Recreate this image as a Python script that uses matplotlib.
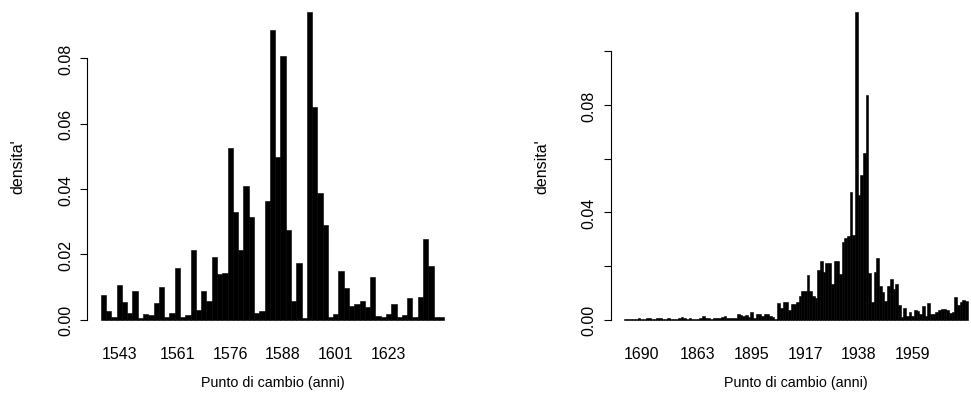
import matplotlib
matplotlib.use("Agg")
import matplotlib.pyplot as plt
import numpy as np

plt.rcParams['font.family'] = ['Liberation Sans', 'DejaVu Sans']

# ---- data: left panel (density per change-point year, bars in order) ----
left_density = [0.0076, 0.0026, 0.0009, 0.0106, 0.0055, 0.0019, 0.0089, 0.0005,
                0.0017, 0.0014, 0.0052, 0.0100, 0.0007, 0.0019, 0.0159, 0.0007,
                0.0014, 0.0214, 0.0031, 0.0088, 0.0058, 0.0193, 0.0140, 0.0144,
                0.0525, 0.0329, 0.0213, 0.0408, 0.0314, 0.0021, 0.0026, 0.0363,
                0.0887, 0.0498, 0.0808, 0.0274, 0.0057, 0.0174, 0.0004, 0.0942,
                0.0651, 0.0388, 0.0289, 0.0009, 0.0017, 0.0148, 0.0097, 0.0043,
                0.0048, 0.0058, 0.0039, 0.0131, 0.0011, 0.0008, 0.0018, 0.0048,
                0.0007, 0.0014, 0.0065, 0.0008, 0.0069, 0.0246, 0.0163, 0.0008,
                0.0008]
left_tick_labels = ['1543', '1561', '1576', '1588', '1601', '1623']
left_tick_bars = [3, 14, 24, 34, 44, 54]
left_yticks = [0.00, 0.02, 0.04, 0.06, 0.08]
left_yticklabels = ['0.00', '0.02', '0.04', '0.06', '0.08']

# ---- data: right panel ----
right_density = [
    0.0002, 0.0002, 0.0003, 0.0002, 0.0004, 0.0005, 0.0003, 0.0003, 0.0005, 0.0006,
    0.0004, 0.0003, 0.0005, 0.0006, 0.0004, 0.0003, 0.0006, 0.0004, 0.0003, 0.0004,
    0.0005, 0.0009, 0.0006, 0.0004, 0.0005, 0.0004, 0.0003, 0.0004, 0.0006, 0.0012,
    0.0007, 0.0005, 0.0004, 0.0005, 0.0008, 0.0006,
    0.0010, 0.0013, 0.0005, 0.0008, 0.0008, 0.0008, 0.0020, 0.0017, 0.0015, 0.0017,
    0.0010, 0.0027, 0.0005, 0.0020, 0.0020, 0.0012, 0.0022, 0.0022, 0.0015, 0.0010,
    0.0003,
    0.0062, 0.0042, 0.0067, 0.0065, 0.0037, 0.0060, 0.0058, 0.0067, 0.0090, 0.0107,
    0.0107, 0.0166, 0.0107, 0.0087, 0.0082, 0.0184, 0.0218, 0.0176, 0.0211, 0.0211,
    0.0134, 0.0218, 0.0218, 0.0169, 0.0288, 0.0303,
    0.0310, 0.0474, 0.0315, 0.1146, 0.0464, 0.0538, 0.0620, 0.0838, 0.0174, 0.0067,
    0.0179, 0.0231, 0.0126, 0.0102, 0.0071, 0.0126, 0.0151, 0.0114, 0.0133, 0.0055,
    0.0009, 0.0042, 0.0012, 0.0027, 0.0015, 0.0037, 0.0032, 0.0020, 0.0052, 0.0015,
    0.0064, 0.0020, 0.0020, 0.0027, 0.0035, 0.0040, 0.0040, 0.0037, 0.0025, 0.0030,
    0.0083, 0.0055, 0.0067, 0.0075, 0.0068]
right_tick_labels = ['1690', '1863', '1895', '1917', '1938', '1959']
right_tick_bars = [6, 27, 47, 67, 87, 107]
right_yticks = [0.00, 0.02, 0.04, 0.06, 0.08, 0.10]
right_yticklabels = ['0.00', '', '0.04', '', '0.08', '']

xlabel_text = 'Punto di cambio (anni)'
ylabel_text = "densita'"

W, H = 971, 406
fig = plt.figure(figsize=(W / 100, H / 100), dpi=100)

FS = 11.5
FS_XLAB = 10.3
FS_YLAB = 11.5


def panel(left_px, ylab_px, values, tick_bars, tick_labels, yticks, yticklabels):
    n = len(values)
    vmax = max(values)
    bottom_px, top_px = 333.0, 0.7
    width_px = 370.9
    ax = fig.add_axes([left_px / W, (H - bottom_px) / H, width_px / W,
                       (bottom_px - top_px) / H])
    x = np.arange(n)
    ax.bar(x, values, width=1.0, align='edge', color='black',
           edgecolor='black', linewidth=0.4)
    ax.set_xlim(-0.04 * n, 1.04 * n)
    ax.set_ylim(-0.04 * vmax, 1.04 * vmax)
    for s in ['top', 'right', 'bottom']:
        ax.spines[s].set_visible(False)
    ax.spines['left'].set_bounds(yticks[0], yticks[-1])
    ax.spines['left'].set_linewidth(0.8)
    ax.set_yticks(yticks)
    ax.set_yticklabels(yticklabels, rotation=90, va='center', fontsize=FS)
    ax.tick_params(axis='y', length=5, width=0.8, pad=5)
    ax.set_xticks([b + 0.5 for b in tick_bars])
    ax.set_xticklabels(tick_labels, fontsize=FS)
    ax.tick_params(axis='x', length=0, pad=10)
    ax.set_xlabel(xlabel_text, fontsize=FS_XLAB)
    ax.xaxis.set_label_coords(0.5, (bottom_px - 383) / (bottom_px - top_px))
    ax.xaxis.label.set_va('center')
    ax.set_ylabel(ylabel_text, fontsize=FS_YLAB)
    ax.yaxis.set_label_coords((ylab_px - left_px) / width_px, 0.5)
    ax.yaxis.label.set_va('center')
    ax.patch.set_alpha(0)
    return ax


panel(87.0, 18.0, left_density, left_tick_bars, left_tick_labels,
      left_yticks, left_yticklabels)
panel(610.5, 542.0, right_density, right_tick_bars, right_tick_labels,
      right_yticks, right_yticklabels)

fig.savefig('out.png', dpi=100, facecolor='white')
